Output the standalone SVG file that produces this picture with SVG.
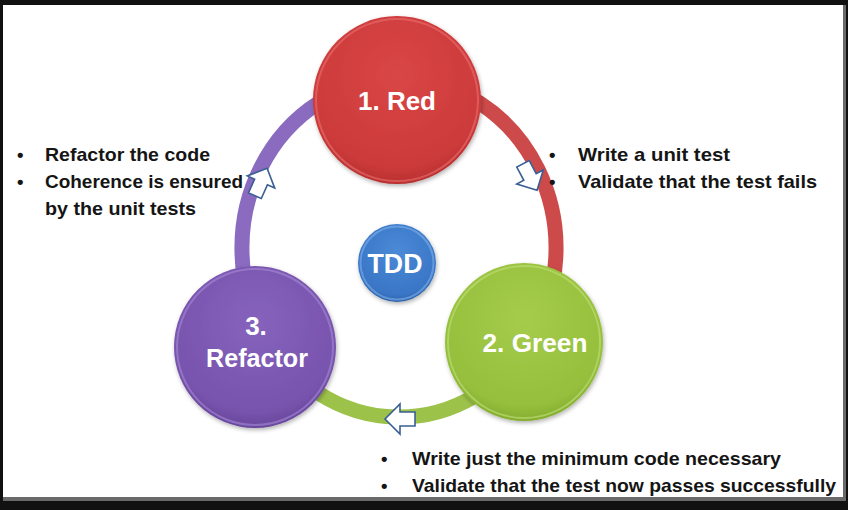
<svg xmlns="http://www.w3.org/2000/svg" width="848" height="510" viewBox="0 0 848 510">
  <defs>
    <radialGradient id="gRed" cx="50%" cy="35%" r="65%">
      <stop offset="0" stop-color="#d94646"/>
      <stop offset="0.85" stop-color="#cc3a3a"/>
      <stop offset="1" stop-color="#b83030"/>
    </radialGradient>
    <radialGradient id="gGreen" cx="50%" cy="35%" r="65%">
      <stop offset="0" stop-color="#a6cc4c"/>
      <stop offset="0.85" stop-color="#95bf3c"/>
      <stop offset="1" stop-color="#84ad30"/>
    </radialGradient>
    <radialGradient id="gPurple" cx="50%" cy="35%" r="65%">
      <stop offset="0" stop-color="#8663bd"/>
      <stop offset="0.85" stop-color="#7753ad"/>
      <stop offset="1" stop-color="#68479c"/>
    </radialGradient>
    <radialGradient id="gBlue" cx="50%" cy="35%" r="65%">
      <stop offset="0" stop-color="#4a8ad6"/>
      <stop offset="0.85" stop-color="#3a76c6"/>
      <stop offset="1" stop-color="#2e62aa"/>
    </radialGradient>
    <filter id="shadow" x="-20%" y="-20%" width="140%" height="140%">
      <feDropShadow dx="1" dy="2" stdDeviation="2" flood-color="#000" flood-opacity="0.3"/>
    </filter>
    <polygon id="blockArrow" points="-15,-7 0,-7 0,-15 15,0 0,15 0,7 -15,7"/>
  </defs>
  <style>
    .lbl { font-family: "Liberation Sans", Arial, sans-serif; font-weight: bold; fill: #ffffff; text-anchor: middle; }
    .txt { font-family: "Liberation Sans", Arial, sans-serif; font-weight: bold; font-size: 18.5px; fill: #151515; }
    .ring { fill: none; stroke-width: 15; }
    .arrow { fill: #ffffff; stroke: #3a5f95; stroke-width: 1.6; stroke-linejoin: miter; }
    .rim { fill: none; stroke-width: 2; stroke-opacity: 0.6; }
  </style>

  <!-- frame -->
  <rect x="0" y="0" width="848" height="510" fill="#111111"/>
  <rect x="3" y="5" width="843" height="496" fill="#6a6a6a"/>
  <rect x="3" y="5" width="840" height="492" fill="#ffffff"/>

  <!-- connectors -->
  <g id="connectors">
    <path class="ring" stroke="#cd4a4a" d="M399,79 A157,169 0 0 1 527.6,345"/>
    <path class="ring" stroke="#9cc24a" d="M527.6,345 A157,169 0 0 1 267.3,340.1"/>
    <path class="ring" stroke="#8a6bbf" d="M267.3,340.1 A157,169 0 0 1 399,79"/>
    <use href="#blockArrow" class="arrow" transform="translate(530,177) rotate(62)"/>
    <use href="#blockArrow" class="arrow" transform="translate(400,419) rotate(180)"/>
    <use href="#blockArrow" class="arrow" transform="translate(261,182) rotate(-66)"/>
  </g>

  <!-- nodes -->
  <g id="node-red">
    <circle cx="397" cy="100" r="84" fill="url(#gRed)" filter="url(#shadow)"/>
    <circle cx="397" cy="100" r="81" class="rim" stroke="#ea7070"/>
    <text class="lbl" x="397" y="110" font-size="26" textLength="78" lengthAdjust="spacingAndGlyphs">1. Red</text>
  </g>
  <g id="node-green">
    <circle cx="524" cy="342" r="79" fill="url(#gGreen)" filter="url(#shadow)"/>
    <circle cx="524" cy="342" r="76" class="rim" stroke="#c2e07a"/>
    <text class="lbl" x="535" y="352" font-size="26" textLength="105" lengthAdjust="spacingAndGlyphs">2. Green</text>
  </g>
  <g id="node-refactor">
    <circle cx="255" cy="347" r="81" fill="url(#gPurple)" filter="url(#shadow)"/>
    <circle cx="255" cy="347" r="78" class="rim" stroke="#a58bd4"/>
    <text class="lbl" x="256" y="335" font-size="26">3.</text>
    <text class="lbl" x="257" y="367" font-size="26" textLength="102" lengthAdjust="spacingAndGlyphs">Refactor</text>
  </g>
  <g id="node-tdd">
    <circle cx="397" cy="263" r="39" fill="url(#gBlue)" filter="url(#shadow)"/>
    <circle cx="397" cy="263" r="36.5" class="rim" stroke="#7fb0ea"/>
    <text class="lbl" x="395" y="273" font-size="27" textLength="55" lengthAdjust="spacingAndGlyphs">TDD</text>
  </g>

  <!-- annotations -->
  <g id="notes-red">
    <text class="txt" x="549" y="161">•</text>
    <text class="txt" x="578" y="161" textLength="152" lengthAdjust="spacingAndGlyphs">Write a unit test</text>
    <text class="txt" x="549" y="188">•</text>
    <text class="txt" x="578" y="188" textLength="239" lengthAdjust="spacingAndGlyphs">Validate that the test fails</text>
  </g>
  <g id="notes-refactor">
    <text class="txt" x="17" y="161">•</text>
    <text class="txt" x="45" y="161" textLength="165" lengthAdjust="spacingAndGlyphs">Refactor the code</text>
    <text class="txt" x="17" y="188">•</text>
    <text class="txt" x="45" y="188" textLength="198" lengthAdjust="spacingAndGlyphs">Coherence is ensured</text>
    <text class="txt" x="45" y="215" textLength="151" lengthAdjust="spacingAndGlyphs">by the unit tests</text>
  </g>
  <g id="notes-green">
    <text class="txt" x="381" y="465">•</text>
    <text class="txt" x="412" y="465" textLength="369" lengthAdjust="spacingAndGlyphs">Write just the minimum code necessary</text>
    <text class="txt" x="381" y="492">•</text>
    <text class="txt" x="412" y="492" textLength="424" lengthAdjust="spacingAndGlyphs">Validate that the test now passes successfully</text>
  </g>
</svg>
